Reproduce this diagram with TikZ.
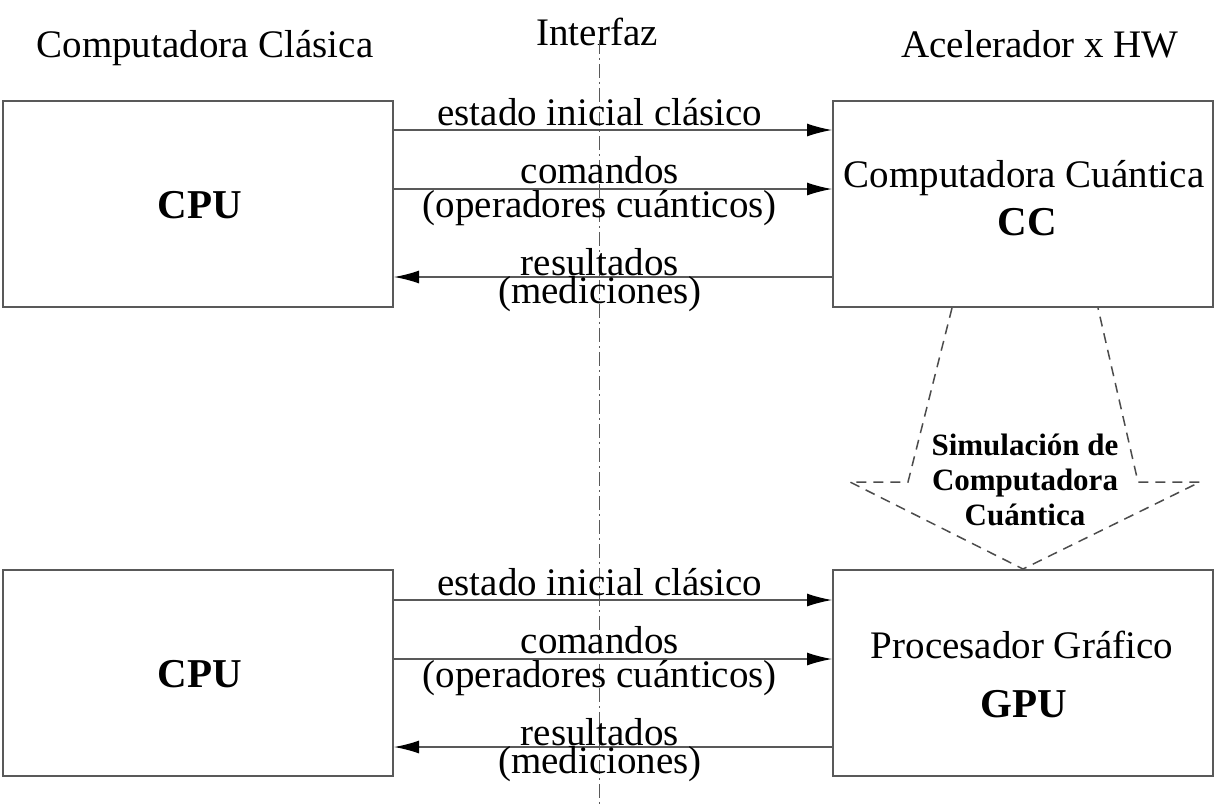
\documentclass[tikz,border=0pt]{standalone}
\usepackage{fontspec}
\setmainfont{Liberation Serif}
\usetikzlibrary{arrows.meta,positioning,calc}
\tikzset
{
    bloque/.style = {rectangle, draw=black!65, line width=1pt, minimum height=103pt, inner sep=0pt},
    izq/.style    = {bloque, minimum width=195pt},
    der/.style    = {bloque, minimum width=190pt},
    flecha/.style = {draw=black!65, line width=0.7pt, -{Latex[length=12.5pt,width=6.5pt,color=black]}},
    texto/.style  = {font=\fontsize{19.5}{19.5}\selectfont, anchor=base, inner sep=0pt},
    negrita/.style= {texto, font=\fontsize{20.5}{20.5}\selectfont\bfseries},
    interfaz/.style = {draw=black!65, line width=0.5pt, dash pattern=on 7pt off 2pt on 1pt off 2pt},
    simula/.style = {draw=black!70, line width=0.75pt, dash pattern=on 5pt off 3.5pt}
}

\begin{document}
\begin{tikzpicture}[x=0.5pt, y=-0.5pt]
		\useasboundingbox (0,0) rectangle (1215,804);

		\node[texto] (tcc) at (205,57) {Computadora Clásica};
		\node[texto] (tif) at (597,45) {Interfaz};
		\node[texto] (tac) at (1040,57) {Acelerador x HW};
		\coordinate (fin) at (599,804);
		\draw[interfaz] (tif.south -| fin) ++(0,-6) -- (fin);

		% arriba
		\node[izq] (cpuA) at (198,204) {};
		\node[der] (cc) at (1023,204) {};
		\node[negrita] (lcpuA) at (200,218) {CPU};
		\node[texto] (lcc) at (1024,187) {Computadora Cuántica};
		\node[negrita] at (1027,235) {CC};

		\coordinate (a1) at (0,130);
		\coordinate (a2) at (0,189);
		\coordinate (a3) at (0,277);
		\draw[flecha] (cpuA.east |- a1) -- node[texto, pos=.47, yshift=2.5pt]{estado inicial clásico} (cc.west |- a1);
		\draw[flecha] (cpuA.east |- a2) -- node[texto, pos=.47, yshift=3pt]{comandos}
			node[texto, pos=.47, yshift=-14pt]{(operadores cuánticos)} (cc.west |- a2);
		\draw[flecha] (cc.west |- a3) -- node[texto, pos=.53, yshift=1pt]{resultados}
			node[texto, pos=.53, yshift=-13pt]{(mediciones)} (cpuA.east |- a3);

		% abajo
		\node[izq] (cpuB) at (198,673) {};
		\node[der] (gpu) at (1023,673) {};
		\node[negrita] (lcpuB) at (200,687) {CPU};
		\node[texto] (lgpu) at (1022,658) {Procesador Gráfico};
		\node[negrita] at (1024,717) {GPU};

		\coordinate (b1) at (0,600);
		\coordinate (b2) at (0,659);
		\coordinate (b3) at (0,747);
		\draw[flecha] (cpuB.east |- b1) -- node[texto, pos=.47, yshift=2.5pt]{estado inicial clásico} (gpu.west |- b1);
		\draw[flecha] (cpuB.east |- b2) -- node[texto, pos=.47, yshift=3pt]{comandos}
			node[texto, pos=.47, yshift=-14pt]{(operadores cuánticos)} (gpu.west |- b2);
		\draw[flecha] (gpu.west |- b3) -- node[texto, pos=.53, yshift=1pt]{resultados}
			node[texto, pos=.53, yshift=-13pt]{(mediciones)} (cpuB.east |- b3);

		% flecha de simulacion
		\draw[simula] ($(cc.south)+(-71,0)$) -- (908,482) -- (850,482) -- (gpu.north)
			-- (1200,482) -- (1138,482) -- ($(cc.south)+(75,0)$);
		\node[align=center, font=\fontsize{15.5}{17.5}\selectfont\bfseries] (sim) at (1025,480)
			{Simulación de\\Computadora\\Cuántica};
\end{tikzpicture}
\end{document}
